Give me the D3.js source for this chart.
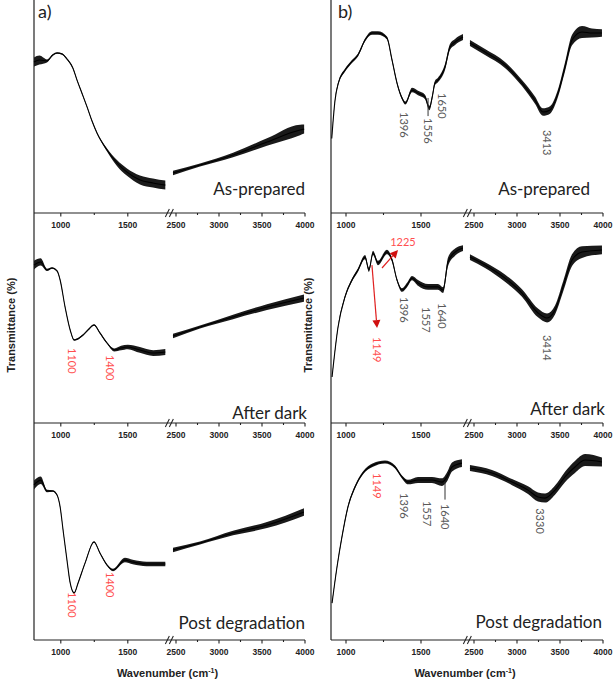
<!DOCTYPE html>
<html>
<head>
<meta charset="utf-8">
<script src="https://cdn.jsdelivr.net/npm/d3@7"></script>
<style>
  body { margin: 0; background: #fff; }
  text { font-family: "Liberation Sans", Arial, sans-serif; }
  .tick-label { font-size: 8.5px; font-weight: bold; fill: #222; }
  .axis-title { font-size: 11px; font-weight: bold; fill: #222; }
  .cond { font-family: Lato, "Open Sans", sans-serif; font-size: 17px; fill: #222; }
  .tag { font-family: Lato, "Open Sans", sans-serif; font-size: 18px; fill: #222; }
  .peak { font-family: Lato, "Open Sans", sans-serif; font-size: 11px; fill: #5a5a5a; }
  .peak.red { fill: #ff4f4f; }
</style>
</head>
<body>
<script>
/*
DATA  -  [wavenumber (cm-1), transmittance (rel. %), noise band width]
*/
const aPrepared = [
  [800,70.9,3],[840,71.8,3],[897,71.4,1],[940,74.2,0.5],[972,75.1,0.5],[1010,74.6,0.5],
  [1046,72.3,0.5],[1090,68.1,0.5],[1121,62.4,0.5],[1160,55.9,0.5],[1196,49.8,0.5],
  [1233,43.2,0.5],[1270,37.6,0.5],[1345,29.6,1],[1419,23.5,2],[1494,19.2,2.5],
  [1591,15.5,3],[1688,14.1,3],[1780,13.1,3],
  [2465,18.8,1.5],[2779,22.5,1],[3163,27.2,1.5],[3558,33.3,2.5],[3942,39,3.5],[3990,39.4,3]
];
const aDark = [
  [800,75.2,3],[850,76.7,2.5],[897,72.9,0.8],[935,73.8,0.5],[972,72.4,0.5],[995,68.1,0.5],
  [1032,55.2,0.5],[1070,44.3,0.5],[1100,39.5,0.5],[1166,41.9,0.5],[1203,44.3,0.5],
  [1248,46.7,0.5],[1292,42.9,0.5],[1345,38.1,0.5],[1400,34.8,1],[1450,35.7,1.5],
  [1500,36.2,1.5],[1590,34.8,2],[1690,33.3,2],[1780,33.8,2],
  [2465,41.4,1.5],[2779,45.7,1],[3163,50.5,1.5],[3558,55.2,2],[3988,59.5,2.5]
];
const aPost = [
  [800,71.8,3],[850,74,2.5],[897,69,0.8],[940,69,0.5],[972,67.1,0.5],[995,61.6,0.5],
  [1017,50.9,0.5],[1046,37,0.5],[1070,26.4,0.5],[1100,21.8,0.5],[1129,26.4,0.5],
  [1181,35.6,0.5],[1248,45.4,0.5],[1292,40.3,0.5],[1345,34.7,0.5],[1390,32.4,0.8],
  [1478,37,1.5],[1537,36.1,1.5],[1640,35.2,1.5],[1780,35.2,1.5],
  [2465,41.7,1.5],[2779,44.9,1],[3163,49.5,1.5],[3558,53.2,2],[3988,59.3,2.5]
];
const bPrepared = [
  [905,35,0.5],[927,53,0.8],[949,61,1],[993,67,1],[1038,71,1],[1080,74.2,1],[1127,81.2,1],
  [1173,84.5,1.2],[1213,84.5,1.2],[1273,82.2,1],[1307,71.8,1],[1340,61,1],[1373,54,1],
  [1396,51.6,1],[1440,57.7,1.5],[1480,56.3,1.5],[1527,54.5,1.5],[1556,49.3,1.5],
  [1575,54.5,1.5],[1593,61,1.5],[1613,62.4,1.5],[1660,68.5,2],[1693,77.9,2],
  [1727,80.3,2],[1780,82.6,2],
  [2453,79.8,2],[2628,75.6,2],[2860,69.5,2],[3058,61,2],[3209,53,2.5],[3302,47.4,2.5],
  [3384,48.4,2.5],[3477,56.3,2.5],[3558,68.5,3],[3640,81.2,3.5],[3756,85,4],
  [3872,84.5,3],[3988,84.5,2.5]
];
const bDark = [
  [907,21.9,0.5],[947,45.7,0.8],[993,60,1],[1040,68.1,1],[1080,72.9,1.2],[1127,79,1.5],
  [1153,72.9,1.5],[1180,81,1.5],[1213,76.2,1.5],[1273,81.4,1.5],[1307,77.6,1.2],
  [1340,68.1,1],[1373,63.3,1.2],[1407,65.7,1.5],[1440,69,1.5],[1480,66.7,2],
  [1547,64.8,2],[1613,64.8,2],[1647,63.3,2],[1680,76.7,3],[1727,81.4,2.5],[1780,83.3,2],
  [2453,79,2],[2628,75.2,2],[2860,69,2.5],[3058,61.9,2.5],[3244,52.4,3],[3349,50,3],
  [3442,53.8,3],[3535,64.8,3.5],[3640,77.6,4],[3756,81.4,4],[3988,82.4,3]
];
const bPost = [
  [907,17.1,0.5],[940,33.8,0.8],[973,47.7,1],[1013,61.6,1],[1060,70.8,1],[1113,77.3,1],
  [1180,81,1.2],[1260,82.4,1],[1327,80.1,1],[1373,75.5,1],[1413,73.1,1.5],[1480,74.1,2],
  [1573,74.1,2],[1640,73.1,2.5],[1673,75.5,3],[1707,80.1,3],[1773,81.9,2.5],
  [2453,79.6,2],[2709,77.3,2],[2942,73.1,2],[3128,69.4,2.5],[3244,66.2,3],[3326,65.7,3],
  [3442,69.4,3],[3558,75.5,3.5],[3674,80.1,4],[3791,83.3,4],[3988,82.4,3]
];

// peak labels: [text, wavenumber where it sits, transmittance of its top]
const aDarkPeaks = [["1100",1084,35.7],["1400",1367,32.4]];
const aPostPeaks = [["1100",1084,22.2],["1400",1367,31.5]];
const bPreparedPeaks = [["1396",1387,47.4],["1556",1547,44.6],["1650",1640,56.3],["3413",3349,39]];
const bDarkPeaks = [["1396",1387,60],["1557",1533,55.2],["1640",1640,57.1],["3414",3349,41.9]];
const bPostPeaks = [["1396",1387,68],["1557",1540,64.4],["1640",1660,63],["3330",3267,61]];
const bDarkRed = [["1149",1207,41]];
const bPostRed = [["1149",1207,77.3]];
// red arrows in b) after dark: [[w, T] from, [w, T] to]
const bDarkArrows = [[[1173,75.2],[1207,45.2]], [[1240,73.8],[1347,82.4]]];
const bDarkArrowText = ["1225", 1380, 86.2];
// short marker lines: [w, T top, T bottom]
const bPreparedMarks = [[1547,54,45.5]];
const bPostMarks = [[1660,73,65]];

const majorTicks = [1000, 1500, 2500, 3000, 3500, 4000];
const minorTicks = [1250, 2750, 3250, 3750];
const conditions = ["As-prepared", "After dark", "Post degradation"];

/*
LAYOUT
*/
const W = 614, H = 684;
const rows = [{top: 0, bottom: 213}, {top: 213, bottom: 423}, {top: 424, bottom: 640}];
const cols = [
  {x0: 34, lo: 800, xb: 168, xr: 171.7, x1: 305, tag: "a)", tagX: 38},
  {x0: 331, lo: 900, xb: 466, xr: 469.7, x1: 603, tag: "b)", tagX: 338}
];
const condPos = [
  [[305, 195], [307, 419], [305, 629]],
  [[590, 195], [605, 415], [602, 628]]
];

const svg = d3.select("body")
  .append("svg")
  .attr("width", W)
  .attr("height", H);

function makeX(col) {
  const left = d3.scaleLinear().domain([col.lo, 1800]).range([col.x0, col.xb]);
  const right = d3.scaleLinear().domain([2450, 4000]).range([col.xr, col.x1]);
  return (w) => (w < 2100 ? left(w) : right(w));
}

function drawPanel(ci, ri, data, extras) {
  const col = cols[ci], row = rows[ri];
  const x = makeX(col);
  const y = d3.scaleLinear().domain([0, 100]).range([row.bottom, row.top]);
  const g = svg.append("g");

  // spectrum, one piece per axis segment
  const pieces = [data.filter(d => d[0] < 2100), data.filter(d => d[0] > 2100)];
  const band = d3.area()
    .x(d => x(d[0]))
    .y0(d => y(d[1] - d[2] * 0.7))
    .y1(d => y(d[1] + d[2] * 0.7))
    .curve(d3.curveMonotoneX);
  const line = d3.line()
    .x(d => x(d[0]))
    .y(d => y(d[1]))
    .curve(d3.curveMonotoneX);

  pieces.forEach(p => {
    g.append("path").attr("d", band(p)).attr("fill", "#1a1a1a");
    g.append("path").attr("d", line(p))
      .attr("fill", "none").attr("stroke", "#000").attr("stroke-width", 1.1);
  });

  // x axis with break
  const yb = row.bottom;
  g.append("line")
    .attr("x1", col.x0).attr("x2", col.x1).attr("y1", yb).attr("y2", yb)
    .attr("stroke", "#222").attr("stroke-width", 1.2);
  g.selectAll(".major")
    .data(majorTicks.filter(t => t >= col.lo))
    .join("line")
    .attr("x1", d => x(d)).attr("x2", d => x(d))
    .attr("y1", yb).attr("y2", yb + 3.5)
    .attr("stroke", "#222").attr("stroke-width", 1.1);
  g.selectAll(".minor")
    .data(minorTicks)
    .join("line")
    .attr("x1", d => x(d)).attr("x2", d => x(d))
    .attr("y1", yb).attr("y2", yb + 2)
    .attr("stroke", "#222").attr("stroke-width", 1.1);
  g.selectAll(".tick-label")
    .data(majorTicks.filter(t => t >= col.lo))
    .join("text")
    .attr("class", "tick-label")
    .attr("x", d => x(d)).attr("y", yb + 14.5)
    .attr("text-anchor", "middle")
    .text(d => d);
  const bx = (col.xb + col.xr) / 2;
  [-2.5, 1.5].forEach(off => {
    g.append("line")
      .attr("x1", bx + off - 2).attr("y1", yb + 4)
      .attr("x2", bx + off + 2).attr("y2", yb - 4)
      .attr("stroke", "#222").attr("stroke-width", 1.1);
  });

  // condition label
  const cp = condPos[ci][ri];
  g.append("text").attr("class", "cond")
    .attr("x", cp[0]).attr("y", cp[1])
    .attr("text-anchor", "end")
    .text(conditions[ri]);

  // peak labels (rotated, read top to bottom)
  const peakLabel = (list, red) => {
    list.forEach(d => {
      g.append("text")
        .attr("class", red ? "peak red" : "peak")
        .attr("transform", `translate(${x(d[1])},${y(d[2])}) rotate(90)`)
        .attr("dy", "0.35em")
        .text(d[0]);
    });
  };
  peakLabel(extras.peaks || [], extras.red);
  peakLabel(extras.redPeaks || [], true);

  (extras.marks || []).forEach(m => {
    g.append("line")
      .attr("x1", x(m[0])).attr("x2", x(m[0]))
      .attr("y1", y(m[1])).attr("y2", y(m[2]))
      .attr("stroke", "#333").attr("stroke-width", 1);
  });

  (extras.arrows || []).forEach(a => {
    const x1 = x(a[0][0]), y1 = y(a[0][1]), x2 = x(a[1][0]), y2 = y(a[1][1]);
    const ang = Math.atan2(y2 - y1, x2 - x1);
    const hl = 8, hw = 4;
    const bxp = x2 - hl * Math.cos(ang), byp = y2 - hl * Math.sin(ang);
    g.append("line")
      .attr("x1", x1).attr("y1", y1).attr("x2", bxp).attr("y2", byp)
      .attr("stroke", "#e02020").attr("stroke-width", 1.2);
    g.append("path")
      .attr("d", `M${x2},${y2}L${bxp + hw * Math.sin(ang)},${byp - hw * Math.cos(ang)}L${bxp - hw * Math.sin(ang)},${byp + hw * Math.cos(ang)}Z`)
      .attr("fill", "#d01010");
  });
  if (extras.arrowText) {
    const t = extras.arrowText;
    g.append("text").attr("class", "peak red")
      .attr("x", x(t[1])).attr("y", y(t[2]))
      .attr("dy", "0.35em").attr("text-anchor", "middle")
      .text(t[0]);
  }
}

// y axes, tags, titles
cols.forEach(col => {
  svg.append("line")
    .attr("x1", col.x0).attr("x2", col.x0).attr("y1", 0).attr("y2", 640)
    .attr("stroke", "#222").attr("stroke-width", 1.2);
  svg.append("text").attr("class", "tag")
    .attr("x", col.tagX).attr("y", 18).text(col.tag);
  svg.append("text").attr("class", "axis-title")
    .attr("transform", `translate(${col.x0 - 19},325) rotate(-90)`)
    .attr("text-anchor", "middle")
    .text("Transmittance (%)");
  const t = svg.append("text").attr("class", "axis-title")
    .attr("x", (col.x0 + col.x1) / 2 - 2).attr("y", 677)
    .attr("text-anchor", "middle");
  t.append("tspan").text("Wavenumber (cm");
  t.append("tspan").attr("dy", -4).attr("font-size", "7px").text("-1");
  t.append("tspan").attr("dy", 4).text(")");
});

drawPanel(0, 0, aPrepared, {});
drawPanel(0, 1, aDark, {peaks: aDarkPeaks, red: true});
drawPanel(0, 2, aPost, {peaks: aPostPeaks, red: true});
drawPanel(1, 0, bPrepared, {peaks: bPreparedPeaks, marks: bPreparedMarks});
drawPanel(1, 1, bDark, {peaks: bDarkPeaks, redPeaks: bDarkRed, arrows: bDarkArrows, arrowText: bDarkArrowText});
drawPanel(1, 2, bPost, {peaks: bPostPeaks, redPeaks: bPostRed, marks: bPostMarks});
</script>
</body>
</html>
